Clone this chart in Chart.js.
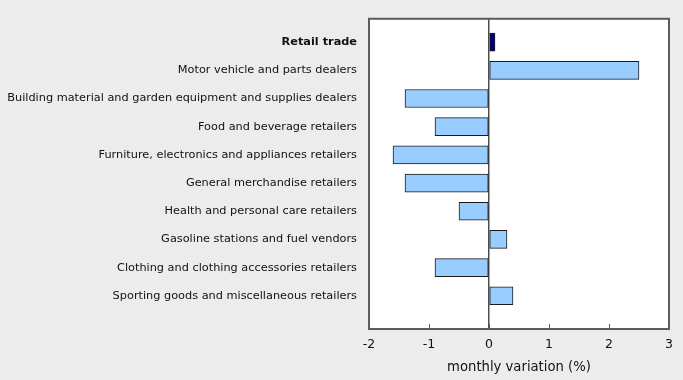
<!DOCTYPE html>
<html>
<head>
<meta charset="utf-8">
<script src="https://cdn.jsdelivr.net/npm/chart.js@4"></script>
<style>
  html, body { margin: 0; padding: 0; background: #ececec; }
  #wrap { width: 683px; height: 380px; }
</style>
</head>
<body>
<div id="wrap"><canvas id="c"></canvas></div>
<script>
// categories, top to bottom
var categories = [
  'Retail trade',
  'Motor vehicle and parts dealers',
  'Building material and garden equipment and supplies dealers',
  'Food and beverage retailers',
  'Furniture, electronics and appliances retailers',
  'General merchandise retailers',
  'Health and personal care retailers',
  'Gasoline stations and fuel vendors',
  'Clothing and clothing accessories retailers',
  'Sporting goods and miscellaneous retailers'
];
// monthly variation (%)
var variation = [0.1, 2.5, -1.4, -0.9, -1.6, -1.4, -0.5, 0.3, -0.9, 0.4];
var xTicks = [-2, -1, 0, 1, 2, 3];

var FONT = '"DejaVu Sans", Verdana, sans-serif';

// plot frame + small inward ticks on the bottom axis
var framePlugin = {
  id: 'frame',
  afterDraw: function(chart){
    var a = chart.chartArea, ctx = chart.ctx, xs = chart.scales.x;
    ctx.save();
    ctx.strokeStyle = '#5c5c5c';
    ctx.lineWidth = 1;
    xTicks.forEach(function(v){
      var px = Math.round(xs.getPixelForValue(v)) + 0.5;
      ctx.beginPath();
      ctx.moveTo(px, a.bottom);
      ctx.lineTo(px, a.bottom - 5);
      ctx.stroke();
    });
    ctx.lineWidth = 2;
    ctx.strokeRect(a.left, a.top, a.right - a.left, a.bottom - a.top);
    ctx.restore();
  }
};

var bgPlugin = {
  id: 'bg',
  beforeDraw: function(chart){
    var a = chart.chartArea, ctx = chart.ctx;
    ctx.save();
    ctx.fillStyle = '#ececec';
    ctx.fillRect(0, 0, chart.width, chart.height);
    ctx.fillStyle = '#ffffff';
    ctx.fillRect(a.left, a.top, a.right - a.left, a.bottom - a.top);
    ctx.restore();
  }
};

new Chart(document.getElementById('c'), {
  type: 'bar',
  data: {
    datasets: [{
      data: variation.map(function(v, i){ return {x: v, y: i}; }),
      backgroundColor: variation.map(function(v, i){ return i === 0 ? '#000080' : '#99ccff'; }),
      borderColor: '#1a1a1a',
      borderWidth: 1,
      borderSkipped: false,
      barThickness: 18
    }]
  },
  options: {
    indexAxis: 'y',
    responsive: true,
    maintainAspectRatio: false,
    animation: false,
    layout: { padding: { top: 17, right: 14, left: 0, bottom: 0 } },
    plugins: {
      legend: { display: false },
      tooltip: { enabled: false }
    },
    scales: {
      y: {
        type: 'linear',
        reverse: true,
        offset: false,
        min: -0.83,
        max: 10.18,
        afterBuildTicks: function(axis){
          axis.ticks = categories.map(function(c, i){ return {value: i}; });
        },
        afterFit: function(axis){ axis.width = 369; },
        grid: { display: false, drawTicks: false },
        border: { display: false },
        ticks: {
          padding: 12,
          color: '#111111',
          autoSkip: false,
          font: function(ctx){
            return {family: FONT, size: 11.3, weight: ctx.index === 0 ? 'bold' : 'normal'};
          },
          callback: function(v){ return categories[v]; }
        }
      },
      x: {
        type: 'linear',
        min: -2,
        max: 3,
        afterBuildTicks: function(axis){
          axis.ticks = xTicks.map(function(v){ return {value: v}; });
        },
        afterFit: function(axis){ axis.height = 51; },
        grid: {
          drawTicks: false,
          color: function(ctx){ return ctx.tick && ctx.tick.value === 0 ? '#4d4d4d' : 'rgba(0,0,0,0)'; },
          lineWidth: 1.5
        },
        border: { display: false },
        ticks: {
          padding: 8,
          color: '#111111',
          font: { family: FONT, size: 12.5 }
        },
        title: {
          display: true,
          text: 'monthly variation (%)',
          color: '#111111',
          font: { family: FONT, size: 13.2 },
          padding: { top: 0, bottom: 5 }
        }
      }
    }
  },
  plugins: [bgPlugin, framePlugin]
});
</script>
</body>
</html>
